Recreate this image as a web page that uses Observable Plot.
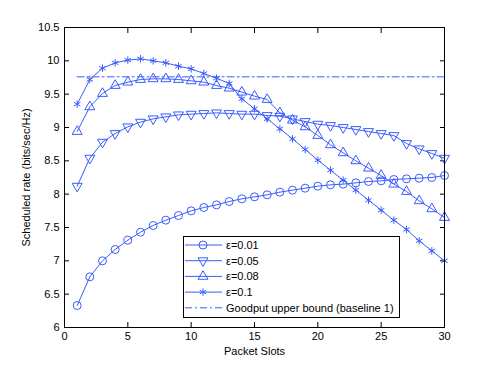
<!DOCTYPE html>
<html>
<head>
<meta charset="utf-8">
<script src="https://cdn.jsdelivr.net/npm/d3@7"></script>
<script src="https://cdn.jsdelivr.net/npm/@observablehq/plot@0.6"></script>
<style>
  html, body { margin: 0; padding: 0; background: #fff; }
</style>
</head>
<body>
<div id="chart"></div>
<script>
const packetSlots = [1,2,3,4,5,6,7,8,9,10,11,12,13,14,15,16,17,18,19,20,21,22,23,24,25,26,27,28,29,30];
const eps001 = [6.33,6.76,7.00,7.17,7.31,7.43,7.53,7.61,7.68,7.75,7.80,7.84,7.89,7.93,7.96,7.99,8.03,8.06,8.09,8.12,8.14,8.15,8.17,8.19,8.20,8.22,8.23,8.24,8.25,8.28];
const eps005 = [8.12,8.54,8.78,8.91,9.01,9.08,9.13,9.16,9.19,9.20,9.21,9.22,9.21,9.20,9.20,9.18,9.17,9.13,9.09,9.05,9.03,9.00,8.97,8.94,8.91,8.88,8.76,8.68,8.61,8.54];
const eps008 = [8.94,9.31,9.51,9.63,9.68,9.72,9.73,9.73,9.72,9.70,9.68,9.63,9.59,9.53,9.47,9.42,9.22,9.11,9.01,8.88,8.74,8.62,8.50,8.39,8.28,8.15,8.04,7.90,7.78,7.65];
const eps01  = [9.35,9.72,9.89,9.97,10.01,10.03,10.00,9.97,9.92,9.88,9.81,9.74,9.66,9.43,9.28,9.13,8.98,8.83,8.67,8.51,8.36,8.21,8.06,7.91,7.76,7.61,7.47,7.30,7.15,7.00];
const upperBound = 9.76;
const upperBoundSlots = [1, 30];
const seriesNames = ["ε=0.01", "ε=0.05", "ε=0.08", "ε=0.1"];
const boundName = "Goodput upper bound (baseline 1)";
const xTicks = [0,5,10,15,20,25,30];
const yTicks = [6,6.5,7,7.5,8,8.5,9,9.5,10,10.5];

const blue = "#3a5cff";
const seriesValues = [eps001, eps005, eps008, eps01];
const rows = seriesNames.flatMap((name, i) =>
  packetSlots.map((s, j) => ({series: name, slot: s, rate: seriesValues[i][j]})));
const boundRows = upperBoundSlots.map(s => ({slot: s, rate: upperBound}));
const pick = name => rows.filter(d => d.series === name);

const none = () => "";
const chart = Plot.plot({
  width: 491, height: 369,
  marginLeft: 64, marginRight: 47, marginTop: 27, marginBottom: 42,
  style: {fontFamily: "'Liberation Sans', Arial, sans-serif", fontSize: "11px", color: "#000", background: "#fff"},
  x: {domain: [0, 30]},
  y: {domain: [6, 10.5]},
  marks: [
    Plot.axisX({ticks: xTicks, tickSize: 0, tickPadding: 5, tickFormat: d => String(d),
      label: "Packet Slots", labelAnchor: "center", labelOffset: 27, labelArrow: "none"}),
    Plot.axisX({ticks: xTicks, tickSize: 5, dy: -5, tickFormat: none, label: null}),
    Plot.axisX({anchor: "top", ticks: xTicks, tickSize: 5, dy: 5, tickFormat: none, label: null}),
    Plot.axisY({ticks: yTicks, tickSize: 0, tickPadding: 5, tickFormat: d => String(d),
      label: "Scheduled rate (bits/sec/Hz)", labelAnchor: "center", labelOffset: 42, labelArrow: "none"}),
    Plot.axisY({ticks: yTicks, tickSize: 5, dx: 5, tickFormat: none, label: null}),
    Plot.axisY({anchor: "right", ticks: yTicks, tickSize: 5, dx: -5, tickFormat: none, label: null}),
    Plot.line(boundRows, {x: "slot", y: "rate", stroke: blue, strokeWidth: 1, strokeDasharray: "7,3,2,3"}),
    Plot.line(rows, {x: "slot", y: "rate", z: "series", stroke: blue, strokeWidth: 1}),
    Plot.dot(pick(seriesNames[0]), {x: "slot", y: "rate", symbol: "circle", r: 4, stroke: blue, fill: "none", strokeWidth: 1}),
    Plot.dot(pick(seriesNames[1]), {x: "slot", y: "rate", symbol: "triangle", r: 3.7, rotate: 180, stroke: blue, fill: "none", strokeWidth: 1}),
    Plot.dot(pick(seriesNames[2]), {x: "slot", y: "rate", symbol: "triangle", r: 3.7, stroke: blue, fill: "none", strokeWidth: 1}),
    Plot.dot(pick(seriesNames[3]), {x: "slot", y: "rate", symbol: "asterisk", r: 3.5, stroke: blue, fill: "none", strokeWidth: 1}),
    Plot.frame({stroke: "#000", strokeWidth: 1})
  ]
});
document.getElementById("chart").appendChild(chart);

// legend box inside plot area (lower middle)
const svg = d3.select(chart);
const lg = svg.append("g").attr("transform", "translate(183,236)")
  .attr("text-anchor", "start")
  .style("font-family", "'Liberation Sans', Arial, sans-serif").style("font-size", "11px");
lg.append("rect").attr("x", 0.5).attr("y", 0.5).attr("width", 216).attr("height", 81)
  .attr("fill", "#fff").attr("stroke", "#000").attr("stroke-width", 1);
const legendItems = [...seriesNames, boundName];
const legendSymbols = [d3.symbolCircle, d3.symbolTriangle, d3.symbolTriangle, d3.symbolAsterisk, null];
const legendSizes = [Math.PI*16, Math.PI*3.7*3.7, Math.PI*3.7*3.7, Math.PI*3.5*3.5];
legendItems.forEach((name, i) => {
  const cy = 9 + i * 15.7;
  const row = lg.append("g").attr("transform", `translate(0,${cy})`);
  row.append("line").attr("x1", 2).attr("x2", 39).attr("y1", 0).attr("y2", 0)
    .attr("stroke", blue).attr("stroke-width", 1)
    .attr("stroke-dasharray", i === 4 ? "7,3,2,3" : null);
  if (legendSymbols[i]) {
    row.append("path").attr("d", d3.symbol(legendSymbols[i], legendSizes[i])())
      .attr("transform", `translate(20,0)${i === 1 ? " rotate(180)" : ""}`)
      .attr("fill", "none").attr("stroke", blue);
  }
  row.append("text").attr("x", 43).attr("y", 0).attr("dy", "0.35em")
    .attr("text-anchor", "start").attr("fill", "#000").text(name);
});
</script>
</body>
</html>
